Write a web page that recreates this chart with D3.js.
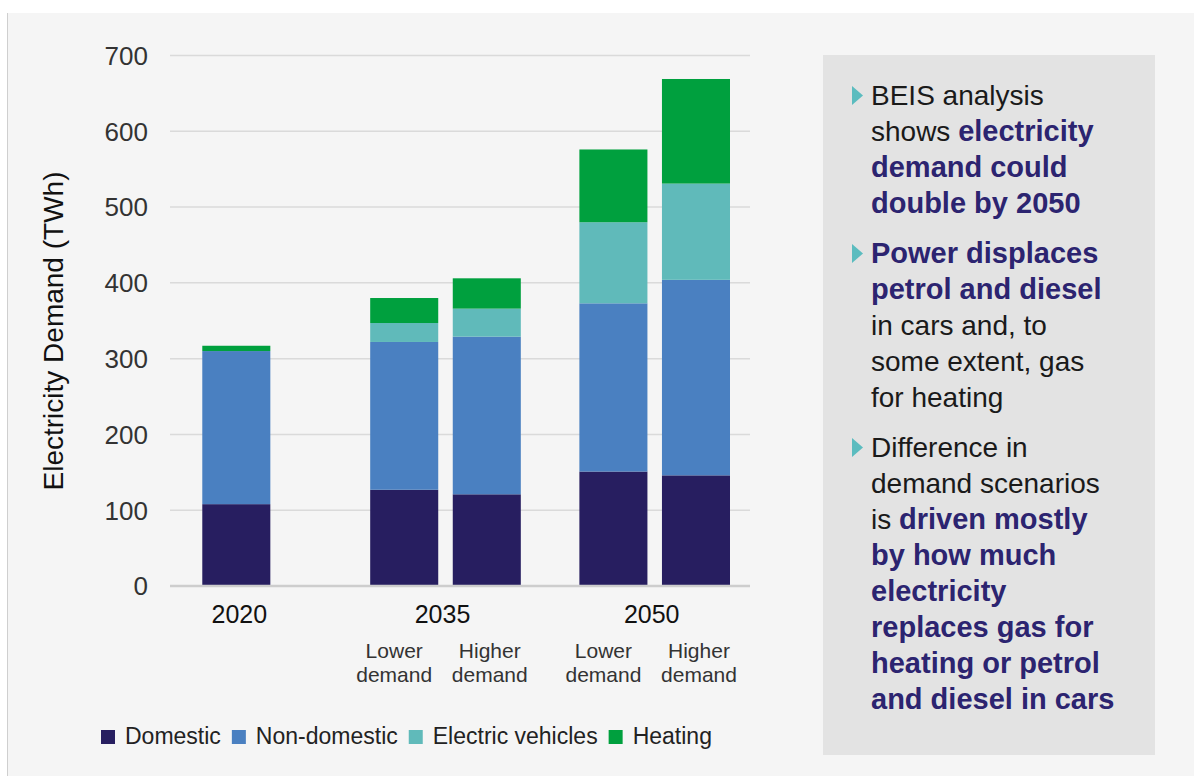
<!DOCTYPE html>
<html>
<head>
<meta charset="utf-8">
<script src="https://cdn.jsdelivr.net/npm/d3@7"></script>
<style>
  html, body { margin: 0; padding: 0; background: #fff; }
  svg { display: block; font-family: "Liberation Sans", Arial, sans-serif; }
</style>
</head>
<body>
<div id="chart"></div>
<script>
// values (TWh)
const barYears = ["2020", "2035", "2035", "2050", "2050"];
const barScenarios = ["", "Lower demand", "Higher demand", "Lower demand", "Higher demand"];
const domestic = [108, 127, 121, 151, 146];
const nonDomestic = [202, 195, 208, 222, 258];
const electricVehicles = [0, 25, 37, 107, 127];
const heating = [7, 33, 40, 96, 138];

const years = ["2020", "2035", "2050"];
const seriesNames = ["Domestic", "Non-domestic", "Electric vehicles", "Heating"];
const seriesColors = ["#271e60", "#4a80c1", "#60baba", "#00a03e"];
const yTicks = [0, 100, 200, 300, 400, 500, 600, 700];

// side panel text: paragraphs -> lines -> [text, bold]
const panelText = [
  [
    [["BEIS analysis", false]],
    [["shows ", false], ["electricity", true]],
    [["demand could", true]],
    [["double by 2050", true]]
  ],
  [
    [["Power displaces", true]],
    [["petrol and diesel", true]],
    [["in cars and, to", false]],
    [["some extent, gas", false]],
    [["for heating", false]]
  ],
  [
    [["Difference in", false]],
    [["demand scenarios", false]],
    [["is ", false], ["driven mostly", true]],
    [["by how much", true]],
    [["electricity", true]],
    [["replaces gas for", true]],
    [["heating or petrol", true]],
    [["and diesel in cars", true]]
  ]
];

const W = 1194, H = 776;

const svg = d3.select("#chart")
  .append("svg")
  .attr("width", W)
  .attr("height", H);

// slide background with thin left border
svg.append("rect")
  .attr("x", 8).attr("y", 13)
  .attr("width", W - 8).attr("height", H - 13)
  .attr("fill", "#f5f5f5");
svg.append("line")
  .attr("x1", 7.5).attr("x2", 7.5)
  .attr("y1", 13).attr("y2", H)
  .attr("stroke", "#cfcfcf")
  .attr("stroke-width", 1);

const plotLeft = 170, plotRight = 750;

const y = d3.scaleLinear().domain([0, 700]).range([586, 55.5]);

const xGroup = d3.scaleBand()
  .domain(years)
  .range([161, 730])
  .paddingInner(0.28);

const xInner = d3.scaleBand()
  .domain(["Lower demand", "Higher demand"])
  .range([0, xGroup.bandwidth()])
  .paddingInner(0.176);

const barW = xInner.bandwidth();

function barCenter(i) {
  const yr = barYears[i];
  const sc = barScenarios[i];
  if (!sc) return xGroup(yr) + xGroup.bandwidth() / 2;
  return xGroup(yr) + xInner(sc) + barW / 2;
}

// gridlines
svg.append("g")
  .selectAll("line")
  .data(yTicks.filter((t) => t > 0))
  .join("line")
  .attr("x1", plotLeft).attr("x2", plotRight)
  .attr("y1", (d) => y(d)).attr("y2", (d) => y(d))
  .attr("stroke", "#dadada")
  .attr("stroke-width", 1.5);

// tick labels
svg.append("g")
  .selectAll("text")
  .data(yTicks)
  .join("text")
  .attr("x", 148)
  .attr("y", (d) => y(d))
  .attr("dy", "0.36em")
  .attr("text-anchor", "end")
  .style("font-size", "26px")
  .style("fill", "#333")
  .text((d) => d);

// axis title
svg.append("text")
  .attr("transform", "translate(63,331) rotate(-90)")
  .attr("text-anchor", "middle")
  .style("font-size", "28px")
  .style("fill", "#111")
  .text("Electricity Demand (TWh)");

// stacked bars
const rows = barYears.map((yr, i) => ({
  idx: i,
  "Domestic": domestic[i],
  "Non-domestic": nonDomestic[i],
  "Electric vehicles": electricVehicles[i],
  "Heating": heating[i]
}));

const stacked = d3.stack().keys(seriesNames)(rows);

svg.append("g")
  .selectAll("g")
  .data(stacked)
  .join("g")
  .attr("fill", (d, i) => seriesColors[i])
  .selectAll("rect")
  .data((d) => d)
  .join("rect")
  .attr("x", (d) => barCenter(d.data.idx) - barW / 2)
  .attr("width", barW)
  .attr("y", (d) => y(d[1]))
  .attr("height", (d) => Math.max(0, y(d[0]) - y(d[1])));

// baseline
svg.append("line")
  .attr("x1", plotLeft).attr("x2", plotRight)
  .attr("y1", y(0)).attr("y2", y(0))
  .attr("stroke", "#cdcdcd")
  .attr("stroke-width", 2.5);

// year labels
svg.append("g")
  .selectAll("text")
  .data(years)
  .join("text")
  .attr("x", (d) => xGroup(d) + xGroup.bandwidth() / 2 + (d === "2020" ? 3 : -3))
  .attr("y", 623)
  .attr("text-anchor", "middle")
  .style("font-size", "25px")
  .style("fill", "#111")
  .text((d) => d);

// scenario labels (two lines), spread a little wider than the bars
const scen = svg.append("g")
  .selectAll("text")
  .data(barScenarios.map((s, i) => ({ s, i })).filter((d) => d.s))
  .join("text")
  .attr("text-anchor", "middle")
  .style("font-size", "21px")
  .style("fill", "#333");

scen.selectAll("tspan")
  .data((d) => d.s.split(" ").map((w) => ({
    w,
    x: barCenter(d.i) + (d.s.startsWith("Lower") ? -10 : 3)
  })))
  .join("tspan")
  .attr("x", (d) => d.x)
  .attr("y", (d, j) => 658 + j * 24)
  .text((d) => d.w);

// legend
const legend = svg.append("g").attr("transform", "translate(101,0)");
let lx = 0;
seriesNames.forEach((name, i) => {
  legend.append("rect")
    .attr("x", lx).attr("y", 730)
    .attr("width", 14).attr("height", 14)
    .attr("fill", seriesColors[i]);
  const t = legend.append("text")
    .attr("x", lx + 24)
    .attr("y", 744)
    .style("font-size", "23px")
    .style("fill", "#222")
    .text(name);
  lx += 24 + t.node().getComputedTextLength() + 11;
});

// side panel
svg.append("rect")
  .attr("x", 823).attr("y", 55)
  .attr("width", 332).attr("height", 700)
  .attr("fill", "#e3e3e3");

const panel = svg.append("g");
const lineH = 36, paraGap = 14;
let by = 105;
panelText.forEach((para) => {
  panel.append("path")
    .attr("d", `M852,${by - 19}L863,${by - 9.5}L852,${by}Z`)
    .attr("fill", "#5bbcbf");
  para.forEach((line) => {
    const t = panel.append("text")
      .attr("x", 871)
      .attr("y", by);
    t.selectAll("tspan")
      .data(line)
      .join("tspan")
      .style("font-size", (d) => (d[1] ? "29px" : "28px"))
      .style("font-weight", (d) => (d[1] ? "700" : "400"))
      .style("fill", (d) => (d[1] ? "#2c2470" : "#1a1a1a"))
      .text((d) => d[0]);
    by += lineH;
  });
  by += paraGap;
});
</script>
</body>
</html>
